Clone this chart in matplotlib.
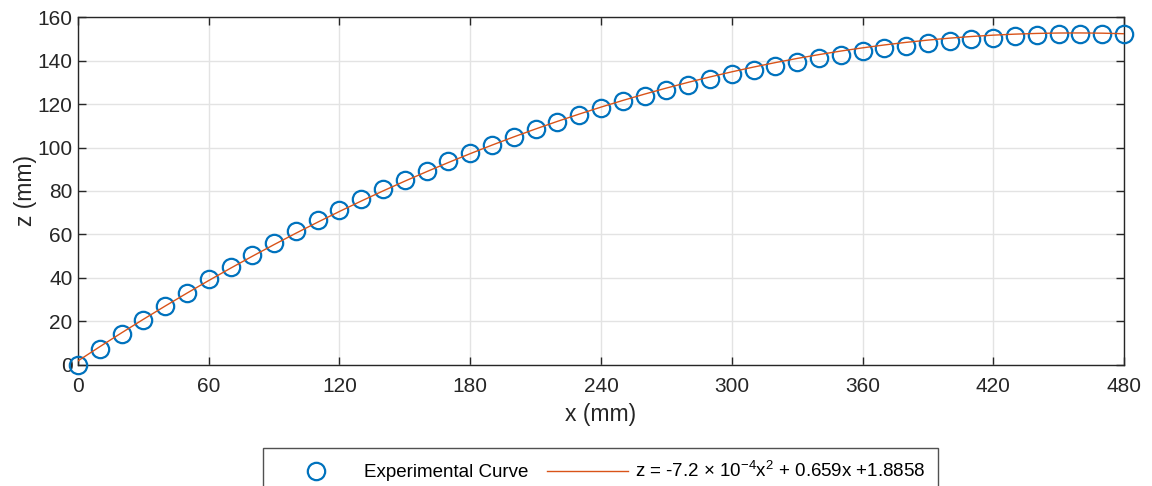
import numpy as np
import matplotlib
matplotlib.use('Agg')
import matplotlib.pyplot as plt

# experimental points
x_mm = [0, 10, 20, 30, 40, 50, 60, 70, 80, 90, 100, 110, 120, 130, 140, 150,
        160, 170, 180, 190, 200, 210, 220, 230, 240, 250, 260, 270, 280, 290,
        300, 310, 320, 330, 340, 350, 360, 370, 380, 390, 400, 410, 420, 430,
        440, 450, 460, 470, 480]
z_mm = [0.0, 7.4, 14.3, 20.7, 27.1, 33.1, 39.5, 45.0, 50.6, 56.1, 61.6, 66.7,
        71.3, 76.3, 80.9, 85.1, 89.2, 93.6, 97.5, 101.1, 104.8, 108.3, 111.7,
        114.9, 118.2, 121.2, 123.7, 126.4, 128.7, 131.3, 133.6, 135.6, 137.5,
        139.3, 141.1, 142.7, 144.4, 145.7, 146.9, 148.0, 149.0, 149.8, 150.5,
        151.2, 151.7, 152.1, 152.2, 152.2, 152.2]

# quadratic fit coefficients (from the legend)
fit_coef = [-7.2e-4, 0.659, 1.8858]
fit_label = r'z = -7.2 $\times$ 10$^{-4}$x$^2$ + 0.659x +1.8858'

x_ticks = [0, 60, 120, 180, 240, 300, 360, 420, 480]
y_ticks = [0, 20, 40, 60, 80, 100, 120, 140, 160]

plt.rcParams['font.family'] = ['Liberation Sans', 'DejaVu Sans']
plt.rcParams['mathtext.default'] = 'regular'

fig = plt.figure(figsize=(11.52, 4.86), dpi=100)
ax = fig.add_axes([0.0677, 0.249, 0.9080, 0.716])

x_fit = np.array(x_mm, dtype=float)
ax.plot(x_mm, z_mm, 'o', mfc='none', mec='#0072BD', ms=12.5, mew=1.6,
        label='Experimental Curve', clip_on=False, zorder=3)
ax.plot(x_fit, np.polyval(fit_coef, x_fit), '-', color='#D95319', lw=1.0,
        label=fit_label, zorder=4)

ax.set_xlim(0, 480)
ax.set_ylim(0, 160)
ax.set_xticks(x_ticks)
ax.set_yticks(y_ticks)
ax.grid(True, color='#e3e3e3', lw=1.0)
ax.set_axisbelow(True)
ax.tick_params(direction='in', length=6, width=1, colors='#262626',
               labelsize=15, top=True, right=True)
ax.tick_params(axis='x', pad=9)
ax.tick_params(axis='y', pad=4)
for s in ax.spines.values():
    s.set_color('#262626')
    s.set_linewidth(1.0)
ax.set_xlabel('x (mm)', fontsize=16.5, color='#262626', labelpad=5)
ax.set_ylabel('z (mm)', fontsize=16.5, color='#262626', labelpad=0)

leg = fig.legend(loc='upper left', bbox_to_anchor=(263 / 1152, 0.0782 - 0.2, 675 / 1152, 0.2),
                 mode='expand', borderaxespad=0, ncol=2,
                 fontsize=13.5, frameon=True, fancybox=False, edgecolor='#262626',
                 handlelength=4.3, borderpad=0.7, handletextpad=0.37)
leg.get_frame().set_linewidth(1.0)

fig.savefig('out.png', dpi=100)
